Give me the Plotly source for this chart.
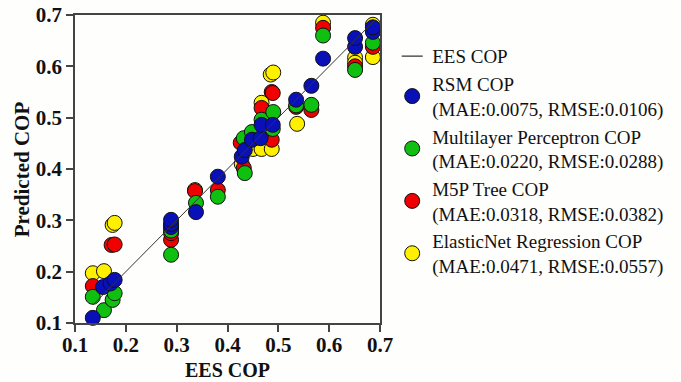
import plotly.graph_objects as go

# EES COP reference line
line_x = [0.135, 0.69]
line_y = [0.135, 0.69]

# RSM COP
rsm_x = [0.135, 0.155, 0.170, 0.178, 0.289, 0.289, 0.289, 0.338, 0.381, 0.428, 0.434, 0.448,
         0.465, 0.467, 0.489, 0.535, 0.565, 0.588, 0.651, 0.651, 0.686, 0.686]
rsm_y = [0.110, 0.170, 0.177, 0.184, 0.287, 0.293, 0.301, 0.316, 0.385, 0.424, 0.437, 0.457,
         0.460, 0.486, 0.486, 0.535, 0.562, 0.615, 0.638, 0.655, 0.667, 0.676]

# Multilayer Perceptron COP
mlp_x = [0.135, 0.157, 0.174, 0.178, 0.289, 0.289, 0.338, 0.381, 0.434, 0.432, 0.448, 0.467,
         0.490, 0.489, 0.535, 0.565, 0.588, 0.651, 0.686]
mlp_y = [0.151, 0.125, 0.145, 0.158, 0.233, 0.280, 0.334, 0.346, 0.392, 0.460, 0.472, 0.496,
         0.511, 0.478, 0.524, 0.525, 0.660, 0.593, 0.646]

# M5P Tree COP
m5p_x = [0.135, 0.172, 0.178, 0.289, 0.289, 0.336, 0.381, 0.432, 0.426, 0.487, 0.467, 0.467,
         0.487, 0.489, 0.535, 0.565, 0.588, 0.651, 0.686]
m5p_y = [0.172, 0.252, 0.253, 0.262, 0.275, 0.357, 0.359, 0.402, 0.451, 0.457, 0.470, 0.519,
         0.550, 0.548, 0.521, 0.515, 0.675, 0.600, 0.638]

# ElasticNet Regression COP
en_x = [0.135, 0.157, 0.174, 0.178, 0.289, 0.336, 0.428, 0.450, 0.467, 0.487, 0.467, 0.485,
        0.490, 0.537, 0.588, 0.651, 0.651, 0.686, 0.686]
en_y = [0.197, 0.201, 0.291, 0.295, 0.290, 0.359, 0.410, 0.439, 0.439, 0.439, 0.529, 0.584,
        0.588, 0.488, 0.685, 0.617, 0.607, 0.681, 0.618]

names = ["RSM COP<br>(MAE:0.0075, RMSE:0.0106)",
         "Multilayer Perceptron COP<br>(MAE:0.0220, RMSE:0.0288)",
         "M5P Tree COP<br>(MAE:0.0318, RMSE:0.0382)",
         "ElasticNet Regression COP<br>(MAE:0.0471, RMSE:0.0557)"]
colors = ["#0a10b8", "#10c010", "#f00000", "#fff000"]
x_title = "EES COP"
y_title = "Predicted COP"

serif = "Liberation Serif, Times New Roman, serif"

fig = go.Figure()
series = [(en_x, en_y, names[3], colors[3]),
          (m5p_x, m5p_y, names[2], colors[2]),
          (mlp_x, mlp_y, names[1], colors[1]),
          (rsm_x, rsm_y, names[0], colors[0])]
for xs, ys, nm, c in series:
    fig.add_trace(go.Scatter(x=xs, y=ys, mode="markers", name=nm,
                             marker=dict(size=15, color=c, line=dict(color="#111", width=1)),
                             cliponaxis=False))
fig.add_trace(go.Scatter(x=line_x, y=line_y, mode="lines", name="EES COP", showlegend=False,
                         line=dict(color="#333", width=1)))
# legend entry for the line, drawn as a short dash
fig.add_trace(go.Scatter(x=[None], y=[None], mode="markers", name="EES COP",
                         marker=dict(symbol="line-ew-open", size=15, color="#333",
                                     line=dict(color="#333", width=1.2))))

axis_common = dict(showgrid=False, zeroline=False, showline=True, linecolor="#444", linewidth=1.5,
                   mirror=True, ticks="outside", ticklen=7, tickwidth=1.5, tickcolor="#444",
                   automargin=False,
                   tickfont=dict(family=serif, size=21, color="#111"))
fig.update_xaxes(range=[0.1, 0.7], dtick=0.1, tickformat=".1f", ticklabelstandoff=-5, **axis_common)
fig.update_yaxes(range=[0.1, 0.7], dtick=0.1, tickformat=".1f", **axis_common)
fig.update_xaxes(tickprefix="<b>", ticksuffix="</b>")
fig.update_yaxes(tickprefix="<b>", ticksuffix="</b>")

fig.add_annotation(text="<b>" + x_title + "</b>", xref="paper", yref="paper", x=0.5, y=-0.152,
                   xanchor="center", yanchor="middle", showarrow=False,
                   font=dict(family=serif, size=20, color="#111"))
fig.add_annotation(text="<b>" + y_title + "</b>", xref="paper", yref="paper", x=-0.173, y=0.5,
                   xanchor="center", yanchor="middle", showarrow=False, textangle=-90,
                   font=dict(family=serif, size=21, color="#111"))

fig.update_layout(
    width=681, height=382,
    margin=dict(l=75, r=299, t=15, b=59),
    paper_bgcolor="#fefefc", plot_bgcolor="#fefefc",
    legend=dict(traceorder="reversed", x=1.04, y=0.928, xanchor="left", yanchor="top",
                font=dict(family=serif, size=19, color="#111"), tracegroupgap=8,
                bgcolor="rgba(0,0,0,0)"),
    showlegend=True,
)
fig.write_html("out.html")
